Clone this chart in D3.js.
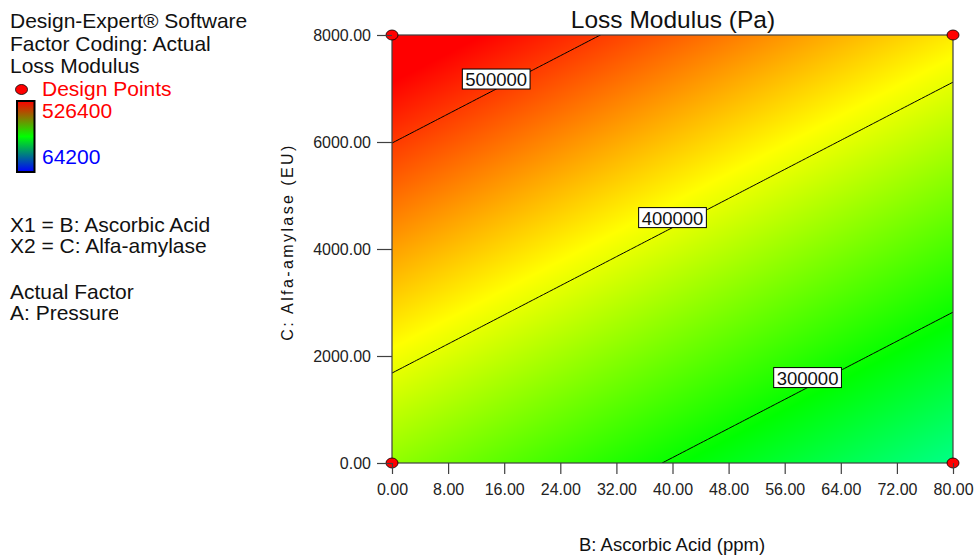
<!DOCTYPE html>
<html>
<head>
<meta charset="utf-8">
<script src="https://cdn.jsdelivr.net/npm/d3@7"></script>
<style>
body { margin: 0; background: #fff; }
svg { font-family: Arial, "Liberation Sans", sans-serif; display: block; }
</style>
</head>
<body>
<div class="view"></div>
<script>
var width = 975;
var height = 558;

var margin = {
    top: 35,
    right: 22,
    bottom: 95,
    left: 392
};
var plotW = width - margin.left - margin.right;
var plotH = height - margin.top - margin.bottom;

// factor ranges and ticks
var bDomain = [0, 80];
var cDomain = [0, 8000];
var bTicks = [0, 8, 16, 24, 32, 40, 48, 56, 64, 72, 80];
var cTicks = [0, 2000, 4000, 6000, 8000];

// fitted surface: Loss = b0 + bB*B + bC*C
var modelTerms = ["Intercept", "B", "C"];
var modelCoefs = [360900, -1581, 23.26];

var contourLevels = [300000, 400000, 500000];
var designPoints = [[0, 0], [80, 0], [0, 8000], [80, 8000]];
var legendRange = [64200, 526400];

var infoLines = ["Design-Expert\u00ae Software", "Factor Coding: Actual", "Loss Modulus"];
var factorLines = ["X1 = B: Ascorbic Acid", "X2 = C: Alfa-amylase"];
var actualLines = ["Actual Factor", "A: Pressure"];

function model(b, c) {
    return modelCoefs[0] + modelCoefs[1] * b + modelCoefs[2] * c;
}

var svg = d3.select(".view")
    .append("svg")
    .attr("width", width)
    .attr("height", height);

var x = d3.scaleLinear().domain(bDomain).range([0, plotW]);
var y = d3.scaleLinear().domain(cDomain).range([plotH, 0]);

var lo = legendRange[0], hi = legendRange[1];
var color = d3.scaleLinear()
    .domain([0, 0.25, 0.5, 0.75, 1].map(function (t) { return lo + t * (hi - lo); }))
    .range(["#0000ff", "#00ffff", "#00ff00", "#ffff00", "#ff0000"])
    .clamp(true);

var g = svg.append("g")
    .attr("transform", "translate(" + margin.left + "," + margin.top + ")");

// filled surface, painted on a canvas then dropped in as an image
var canvas = document.createElement("canvas");
canvas.width = plotW;
canvas.height = plotH;
var ctx = canvas.getContext("2d");
var img = ctx.createImageData(plotW, plotH);
for (var py = 0; py < plotH; py++) {
    for (var px = 0; px < plotW; px++) {
        var c = d3.rgb(color(model(x.invert(px + 0.5), y.invert(py + 0.5))));
        var k = (py * plotW + px) * 4;
        img.data[k] = c.r;
        img.data[k + 1] = c.g;
        img.data[k + 2] = c.b;
        img.data[k + 3] = 255;
    }
}
ctx.putImageData(img, 0, 0);

g.append("image")
    .attr("width", plotW)
    .attr("height", plotH)
    .attr("preserveAspectRatio", "none")
    .attr("href", canvas.toDataURL());

svg.append("clipPath")
    .attr("id", "plot-clip")
    .append("rect")
    .attr("width", plotW)
    .attr("height", plotH);

// contour lines
var nx = 161, ny = 161;
var stepB = (bDomain[1] - bDomain[0]) / (nx - 1);
var stepC = (cDomain[1] - cDomain[0]) / (ny - 1);
var grid = new Array(nx * ny);
for (var j = 0; j < ny; j++) {
    for (var i = 0; i < nx; i++) {
        grid[j * nx + i] = model(bDomain[0] + i * stepB, cDomain[0] + j * stepC);
    }
}
var contours = d3.contours().size([nx, ny]).thresholds(contourLevels)(grid);

function toData(p) {
    return [bDomain[0] + (p[0] - 0.5) * stepB, cDomain[0] + (p[1] - 0.5) * stepC];
}

var path = d3.geoPath(d3.geoTransform({
    point: function (px, py) {
        var d = toData([px, py]);
        this.stream.point(x(d[0]), y(d[1]));
    }
}));

g.append("g")
    .attr("clip-path", "url(#plot-clip)")
    .selectAll("path")
    .data(contours)
    .enter().append("path")
    .attr("fill", "none")
    .attr("stroke", "#000")
    .attr("stroke-width", 1)
    .attr("d", path);

// frame
g.append("rect")
    .attr("width", plotW)
    .attr("height", plotH)
    .attr("fill", "none")
    .attr("stroke", "#404040")
    .attr("stroke-width", 1.2);

// contour labels at the middle of each visible line
contours.forEach(function (ct) {
    var pts = [];
    ct.coordinates.forEach(function (poly) {
        poly.forEach(function (ring) {
            ring.forEach(function (p) {
                var d = toData(p);
                if (d[0] >= bDomain[0] - 0.01 && d[0] <= bDomain[1] + 0.01 &&
                    d[1] >= cDomain[0] - 1 && d[1] <= cDomain[1] + 1) pts.push(d);
            });
        });
    });
    if (!pts.length) return;
    var ext = d3.extent(pts, function (d) { return d[0]; });
    var a = pts.find(function (d) { return d[0] === ext[0]; });
    var b = pts.find(function (d) { return d[0] === ext[1]; });
    var mx = (x(a[0]) + x(b[0])) / 2;
    var my = (y(a[1]) + y(b[1])) / 2;

    var lab = g.append("g");
    var box = lab.append("rect")
        .attr("fill", "#fff")
        .attr("stroke", "#000")
        .attr("stroke-width", 1);
    var t = lab.append("text")
        .attr("x", mx)
        .attr("y", my - 3)
        .attr("text-anchor", "middle")
        .attr("font-size", "18.5px")
        .attr("fill", "#111")
        .text(ct.value);
    var w = t.node().getComputedTextLength() + 6;
    box.attr("x", mx - w / 2)
        .attr("y", my - 20)
        .attr("width", w)
        .attr("height", 20);
});

// design points
g.selectAll(".dp")
    .data(designPoints)
    .enter().append("ellipse")
    .attr("class", "dp")
    .attr("cx", function (d) { return x(d[0]); })
    .attr("cy", function (d) { return y(d[1]); })
    .attr("rx", 6)
    .attr("ry", 5)
    .attr("fill", "#ff0000")
    .attr("stroke", "#000")
    .attr("stroke-width", 0.8);

// axes
var xAxis = g.append("g")
    .attr("transform", "translate(0," + plotH + ")")
    .call(d3.axisBottom(x)
        .tickValues(bTicks)
        .tickFormat(d3.format(".2f"))
        .tickSize(11)
        .tickPadding(9.5));
xAxis.select(".domain").remove();

var yAxis = g.append("g")
    .call(d3.axisLeft(y)
        .tickValues(cTicks)
        .tickFormat(d3.format(".2f"))
        .tickSize(15)
        .tickPadding(6));
yAxis.select(".domain").remove();

g.selectAll(".tick line").attr("stroke", "#404040").attr("stroke-width", 1.2);
g.selectAll(".tick text")
    .attr("font-size", "16px")
    .attr("font-family", "Arial, 'Liberation Sans', sans-serif")
    .attr("fill", "#222");

// titles
svg.append("text")
    .attr("x", 673)
    .attr("y", 28)
    .attr("text-anchor", "middle")
    .attr("font-size", "24.5px")
    .attr("fill", "#111")
    .text("Loss Modulus (Pa)");

svg.append("text")
    .attr("x", 672)
    .attr("y", 551)
    .attr("text-anchor", "middle")
    .attr("font-size", "18.5px")
    .attr("fill", "#111")
    .text("B: Ascorbic Acid (ppm)");

svg.append("text")
    .attr("transform", "translate(293,242) rotate(-90)")
    .attr("text-anchor", "middle")
    .attr("font-size", "16px")
    .attr("letter-spacing", "2.4px")
    .attr("fill", "#111")
    .text("C: Alfa-amylase (EU)");

// left info panel
var info = svg.append("g").attr("font-size", "21px").attr("fill", "#111");

info.selectAll(".l1")
    .data(infoLines)
    .enter().append("text")
    .attr("x", 10)
    .attr("y", function (d, i) { return 28 + i * 22.5; })
    .text(function (d) { return d; });

info.append("ellipse")
    .attr("cx", 21.5)
    .attr("cy", 89.5)
    .attr("rx", 6)
    .attr("ry", 5)
    .attr("fill", "#ff0000")
    .attr("stroke", "#000")
    .attr("stroke-width", 0.8);

info.append("text")
    .attr("x", 42)
    .attr("y", 96)
    .attr("fill", "#ff0000")
    .text("Design Points");

var grad = svg.append("defs").append("linearGradient")
    .attr("id", "legend-grad")
    .attr("x1", 0).attr("y1", 0).attr("x2", 0).attr("y2", 1);
grad.selectAll("stop")
    .data(["#ff0000", "#00ff00", "#0000ff"])
    .enter().append("stop")
    .attr("offset", function (d, i) { return i / 2; })
    .attr("stop-color", function (d) { return d; });

info.append("rect")
    .attr("x", 17)
    .attr("y", 101)
    .attr("width", 17.5)
    .attr("height", 71)
    .attr("fill", "url(#legend-grad)")
    .attr("stroke", "#000")
    .attr("stroke-width", 2);

info.append("text")
    .attr("x", 42)
    .attr("y", 118)
    .attr("fill", "#ff0000")
    .text(legendRange[1]);

info.append("text")
    .attr("x", 42)
    .attr("y", 164)
    .attr("fill", "#0000ff")
    .text(legendRange[0]);

info.selectAll(".l2")
    .data(factorLines)
    .enter().append("text")
    .attr("x", 10)
    .attr("y", function (d, i) { return 232 + i * 21; })
    .text(function (d) { return d; });

svg.append("clipPath")
    .attr("id", "panel-clip")
    .append("rect")
    .attr("x", 0)
    .attr("y", 0)
    .attr("width", 118)
    .attr("height", 558);

info.append("text")
    .attr("x", 10)
    .attr("y", 299)
    .text(actualLines[0]);

info.append("text")
    .attr("clip-path", "url(#panel-clip)")
    .attr("x", 10)
    .attr("y", 320)
    .text(actualLines[1]);
</script>
</body>
</html>
